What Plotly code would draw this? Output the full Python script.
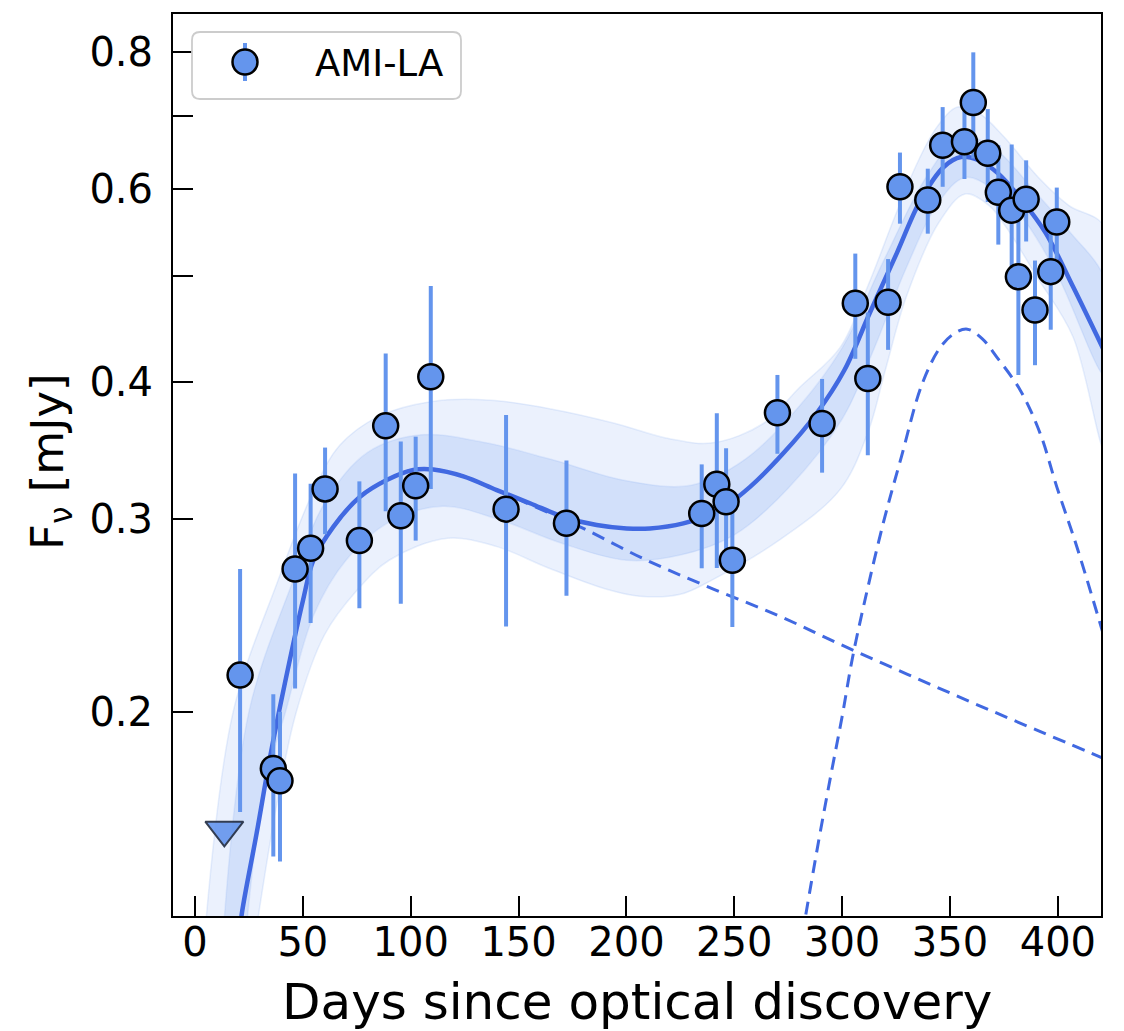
import plotly.graph_objects as go

# ---------------- data ----------------
days = [20.9, 36.3, 39.4, 46.4, 53.6, 60.3, 76.2, 88.4, 95.4, 102.3, 109.3, 144.2, 172.2,
        234.9, 241.9, 246.2, 249.1, 270.0, 290.7, 306.1, 311.9, 321.3, 326.8, 339.7, 346.6,
        356.7, 360.8, 367.5, 372.4, 378.6, 381.7, 385.3, 389.4, 396.7, 399.5]
flux = [0.216, 0.1775, 0.173, 0.270, 0.282, 0.3195, 0.2866, 0.3648, 0.302, 0.3216, 0.4045,
        0.3062, 0.2972, 0.3034, 0.3226, 0.311, 0.275, 0.375, 0.3666, 0.472, 0.403, 0.473,
        0.603, 0.5864, 0.658, 0.663, 0.720, 0.647, 0.596, 0.574, 0.499, 0.5875, 0.4654,
        0.5045, 0.560]
flux_err = [0.054, 0.030, 0.027, 0.060, 0.041, 0.029, 0.038, 0.060, 0.051, 0.035, 0.085,
            0.067, 0.042, 0.033, 0.052, 0.037, 0.036, 0.031, 0.036, 0.052, 0.060, 0.045,
            0.045, 0.040, 0.055, 0.050, 0.080, 0.063, 0.062, 0.085, 0.093, 0.050, 0.051,
            0.058, 0.042]

ul_days = [13.6]
ul_flux = [0.156]

# best-fit total model
model_days = [20.8, 21.6, 28.6, 34.8, 41.7, 50.1, 54.9, 64.1, 76.5, 88.9, 101.2, 110.5, 124.4,
              139.9, 155.3, 170.8, 186.2, 200.1, 210.9, 226.4, 241.9, 257.3, 272.7, 288.2,
              301.0, 312.7, 325.3, 336.3, 347.2, 355.1, 363.0, 372.4, 383.4, 394.4, 407.0,
              422.0]
model_flux = [0.125, 0.1304, 0.155, 0.1818, 0.2125, 0.253, 0.275, 0.295, 0.3143, 0.3256,
              0.3325, 0.3328, 0.328, 0.3187, 0.310, 0.3013, 0.2961, 0.294, 0.294, 0.2972,
              0.3045, 0.3209, 0.3443, 0.3746, 0.410, 0.462, 0.5243, 0.586, 0.629, 0.642,
              0.638, 0.620, 0.586, 0.547, 0.489, 0.425]

# component 1 (first flare)
comp1_days = [20.8, 21.6, 28.6, 34.8, 41.7, 50.1, 54.9, 64.1, 76.5, 88.9, 101.2, 110.5,
              124.4, 139.9, 150.7, 178.5, 209.4, 240.0, 271.0, 300.0, 330.0, 360.0, 390.0,
              422.0]
comp1_flux = [0.125, 0.1304, 0.155, 0.1818, 0.2125, 0.253, 0.275, 0.295, 0.3143, 0.3256,
              0.3325, 0.3328, 0.328, 0.3187, 0.312, 0.295, 0.275, 0.259, 0.2445, 0.230,
              0.2165, 0.204, 0.1925, 0.181]

# component 2 (second flare)
comp2_days = [281.5, 289.0, 295.0, 300.0, 304.6, 310.0, 319.0, 327.5, 337.0, 345.4, 352.0,
              358.0, 365.0, 371.6, 382.5, 391.8, 399.5, 408.8, 422.0]
comp2_flux = [0.125, 0.152, 0.176, 0.198, 0.223, 0.250, 0.297, 0.342, 0.398, 0.430, 0.443,
              0.447, 0.438, 0.4218, 0.3934, 0.359, 0.3209, 0.2829, 0.232]

# posterior spread: outer envelope
band_up_days = [4.5, 17.7, 38.0, 54.9, 67.0, 85.0, 110.0, 137.0, 165.0, 194.0, 220.0, 240.0,
                263.5, 280.0, 299.0, 312.0, 325.0, 335.0, 344.0, 353.5, 363.0, 375.0, 391.0,
                405.0, 422.0]
band_up_flux = [0.125, 0.200, 0.262, 0.318, 0.350, 0.372, 0.384, 0.385, 0.378, 0.367, 0.355,
                0.352, 0.3666, 0.395, 0.430, 0.490, 0.570, 0.635, 0.684, 0.713, 0.705, 0.670,
                0.615, 0.580, 0.553]
band_lo_days = [28.0, 38.0, 47.0, 60.0, 75.0, 90.0, 117.0, 140.0, 163.0, 190.0, 206.0, 225.0,
                240.0, 271.0, 299.0, 312.0, 320.0, 330.0, 345.0, 357.0, 368.0, 376.0, 390.0,
                407.0, 422.0]
band_lo_flux = [0.125, 0.165, 0.200, 0.235, 0.258, 0.275, 0.288, 0.283, 0.271, 0.259, 0.255,
                0.256, 0.264, 0.287, 0.319, 0.360, 0.410, 0.480, 0.560, 0.594, 0.580, 0.554,
                0.500, 0.440, 0.345]

# posterior spread: denser inner region
inner_up_days = [13.0, 25.0, 45.0, 60.0, 80.0, 105.0, 135.0, 165.0, 200.0, 230.0, 255.0,
                 280.0, 300.0, 320.0, 340.0, 355.0, 370.0, 390.0, 405.0, 422.0]
inner_up_flux = [0.125, 0.200, 0.262, 0.310, 0.345, 0.358, 0.352, 0.340, 0.325, 0.322, 0.340,
                 0.380, 0.430, 0.520, 0.620, 0.670, 0.655, 0.595, 0.550, 0.495]
inner_lo_days = [23.5, 32.0, 42.0, 55.0, 70.0, 90.0, 115.0, 140.0, 170.0, 200.0, 225.0,
                 250.0, 275.0, 300.0, 315.0, 330.0, 345.0, 357.0, 370.0, 385.0, 400.0, 422.0]
inner_lo_flux = [0.125, 0.170, 0.200, 0.245, 0.275, 0.298, 0.308, 0.300, 0.285, 0.275, 0.278,
                 0.290, 0.320, 0.370, 0.430, 0.510, 0.585, 0.615, 0.600, 0.560, 0.500, 0.405]

x_ticks = [0, 50, 100, 150, 200, 250, 300, 350, 400]
y_ticks = [0.2, 0.3, 0.4, 0.6, 0.8]
y_tick_text = ["0.2", "0.3", "0.4", "0.6", "0.8"]
y_minor_ticks = [0.5, 0.7]

# ---------------- styling ----------------
W, H = 1124, 1031
ML, MR, MT, MB = 173, 23, 14, 115
PW, PH = W - ML - MR, H - MT - MB
FONT = "DejaVu Sans"
CORNFLOWER = "#6495ED"
ROYAL = "#4169E1"


def px_x(px):
    return (px - ML) / PW


def px_y(py):
    return (H - MB - py) / PH


fig = go.Figure()

# posterior band (outer, then inner)
fig.add_trace(go.Scatter(
    x=band_up_days + band_lo_days[::-1], y=band_up_flux + band_lo_flux[::-1],
    mode="lines", fill="toself", fillcolor="rgba(100,149,237,0.13)",
    line=dict(color="rgba(100,149,237,0.14)", width=1.5, shape="spline", smoothing=1.0),
    hoverinfo="skip", showlegend=False))
fig.add_trace(go.Scatter(
    x=inner_up_days + inner_lo_days[::-1], y=inner_up_flux + inner_lo_flux[::-1],
    mode="lines", fill="toself", fillcolor="rgba(100,149,237,0.18)",
    line=dict(color="rgba(100,149,237,0.12)", width=1.5, shape="spline", smoothing=1.0),
    hoverinfo="skip", showlegend=False))

# components (dashed)
fig.add_trace(go.Scatter(x=comp1_days, y=comp1_flux, mode="lines",
                         line=dict(color=ROYAL, width=3, dash="13px,8px", shape="spline"),
                         showlegend=False))
fig.add_trace(go.Scatter(x=comp2_days, y=comp2_flux, mode="lines",
                         line=dict(color=ROYAL, width=3, dash="13px,8px", shape="spline"),
                         showlegend=False))
# best fit
fig.add_trace(go.Scatter(x=model_days, y=model_flux, mode="lines",
                         line=dict(color=ROYAL, width=4.5, shape="spline"),
                         showlegend=False))

# upper limit
fig.add_trace(go.Scatter(x=ul_days, y=ul_flux, mode="markers",
                         marker=dict(symbol="triangle-down", size=33, color=CORNFLOWER,
                                     opacity=0.9, line=dict(color="#1f2a40", width=2)),
                         showlegend=False))

# detections
fig.add_trace(go.Scatter(
    x=days, y=flux, mode="markers", name="AMI-LA",
    error_y=dict(type="data", array=flux_err, color=CORNFLOWER, thickness=4, width=0),
    marker=dict(size=25, color=CORNFLOWER, line=dict(color="black", width=2.5)),
    showlegend=False))

# ---------------- legend (drawn) ----------------
x0, x1 = px_x(192), px_x(461)
yt, yb = px_y(32), px_y(99)
rx, ry = 8 / PW, 8 / PH
path = (f"M {x0+rx},{yt} L {x1-rx},{yt} Q {x1},{yt} {x1},{yt-ry} "
        f"L {x1},{yb+ry} Q {x1},{yb} {x1-rx},{yb} L {x0+rx},{yb} Q {x0},{yb} {x0},{yb+ry} "
        f"L {x0},{yt-ry} Q {x0},{yt} {x0+rx},{yt} Z")
shapes = [
    dict(type="path", xref="paper", yref="paper", path=path,
         fillcolor="rgba(255,255,255,0.85)", line=dict(color="#cccccc", width=1.8),
         layer="above"),
    dict(type="line", xref="paper", yref="paper", xsizemode="pixel", ysizemode="pixel",
         xanchor=px_x(245), yanchor=px_y(62), x0=0, x1=0, y0=-19, y1=19,
         line=dict(color=CORNFLOWER, width=4), layer="above"),
    dict(type="circle", xref="paper", yref="paper", xsizemode="pixel", ysizemode="pixel",
         xanchor=px_x(245), yanchor=px_y(62), x0=-12.5, x1=12.5, y0=-12.5, y1=12.5,
         fillcolor=CORNFLOWER, line=dict(color="black", width=2.5), layer="above"),
]

annotations = [
    dict(text="AMI-LA", xref="paper", yref="paper", x=px_x(313), y=px_y(63),
         xanchor="left", yanchor="middle", showarrow=False,
         font=dict(family=FONT, size=37, color="black")),
    dict(text="Days since optical discovery", xref="paper", yref="paper",
         x=0.5, y=px_y(1002), xanchor="center", yanchor="middle", showarrow=False,
         font=dict(family=FONT, size=50, color="black")),
    dict(text="F<sub>ν</sub> [mJy]", xref="paper", yref="paper",
         x=px_x(50), y=px_y(462), xanchor="center", yanchor="middle", textangle=-90,
         showarrow=False, font=dict(family=FONT, size=45, color="black")),
]

fig.update_layout(
    width=W, height=H,
    margin=dict(l=ML, r=MR, t=MT, b=MB, pad=0),
    plot_bgcolor="white", paper_bgcolor="white",
    font=dict(family=FONT, color="black"),
    shapes=shapes, annotations=annotations,
    showlegend=False,
)
fig.update_xaxes(
    range=[-10.2, 420], tickvals=x_ticks, ticks="inside", ticklen=20, tickwidth=1.5,
    tickcolor="black", showline=True, linecolor="black", linewidth=2, mirror=True,
    showgrid=False, zeroline=False, tickfont=dict(family=FONT, size=40),
    ticklabelstandoff=-10,
)
fig.update_yaxes(
    type="log", range=[-0.8855, -0.0619], tickvals=y_ticks, ticktext=y_tick_text,
    ticks="inside", ticklen=20, tickwidth=1.5, tickcolor="black",
    minor=dict(tickvals=y_minor_ticks, ticks="inside", ticklen=20, tickwidth=1.5,
               tickcolor="black", showgrid=False),
    showline=True, linecolor="black", linewidth=2, mirror=True,
    showgrid=False, zeroline=False, tickfont=dict(family=FONT, size=40),
    ticklabelstandoff=10,
)

fig.write_html("out.html", config={"displayModeBar": False})

# remove the browser's default page margin so the figure sits at the window's corner
with open("out.html", "r", encoding="utf-8") as f:
    html = f.read()
html = html.replace("<head>", "<head><style>html,body{margin:0;padding:0;overflow:hidden;}</style>", 1)
with open("out.html", "w", encoding="utf-8") as f:
    f.write(html)
